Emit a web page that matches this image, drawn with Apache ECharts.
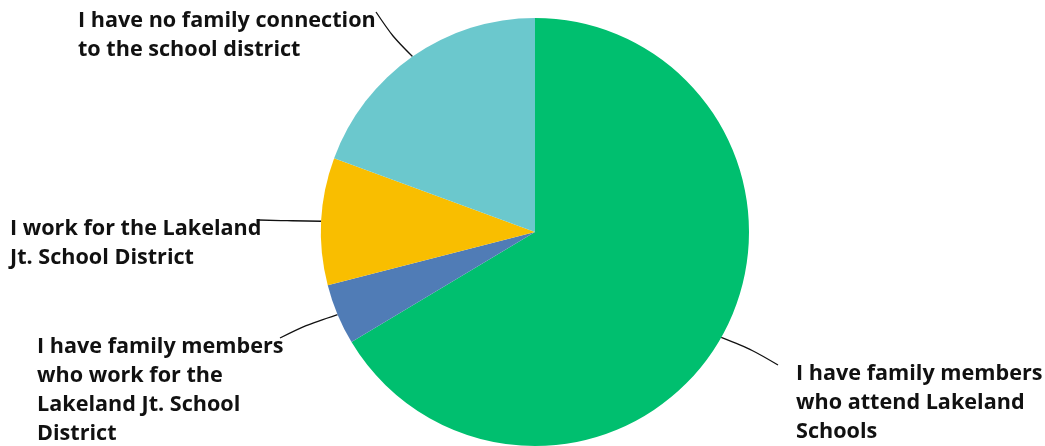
<!DOCTYPE html>
<html><head><meta charset="utf-8">
<script src="https://cdn.jsdelivr.net/npm/echarts@6/dist/echarts.min.js"></script>
<style>html,body{margin:0;padding:0;background:#fff}#c{width:1045px;height:446px}</style>
</head><body><div id="c"></div>
<script>
const categories = [
  "I have family members\nwho attend Lakeland\nSchools",
  "I have family members\nwho work for the\nLakeland Jt. School\nDistrict",
  "I work for the Lakeland\nJt. School District",
  "I have no family connection\nto the school district"
];
const values = [66.4, 4.6, 9.6, 19.4];
const colors = ["#00BF6F", "#507CB6", "#F9BE00", "#6BC8CD"];

// label placement (style): top-left of text block and leader end point
const labelBoxes = [
  {x: 796, y: 359, ex: 778, ey: 365},
  {x: 37,  y: 332, ex: 280, ey: 338},
  {x: 10,  y: 214, ex: 259, ey: 220},
  {x: 78,  y: 6,   ex: 376, ey: 12}
];

const chart = echarts.init(document.getElementById('c'), null, {renderer: 'canvas'});
chart.setOption({
  animation: false,
  series: [{
    type: 'pie',
    center: [535, 232],
    radius: 214,
    startAngle: 90,
    clockwise: true,
    data: categories.map((n, i) => ({name: n, value: values[i], itemStyle: {color: colors[i]}})),
    label: {
      show: true,
      formatter: '{b}',
      color: '#111',
      fontFamily: 'Open Sans',
      fontWeight: 'bold',
      fontSize: 21.6,
      lineHeight: 29
    },
    labelLine: {show: true, smooth: 0.3, lineStyle: {color: '#111', width: 1.3}},
    labelLayout: function (p) {
      const b = labelBoxes[p.dataIndex];
      const s = p.labelLinePoints ? p.labelLinePoints[0] : [b.ex, b.ey];
      const m = [s[0] + (b.ex - s[0]) * 0.55, s[1] + (b.ey - s[1]) * 0.45];
      return {
        x: b.x, y: b.y, align: 'left', verticalAlign: 'top',
        labelLinePoints: [s, m, [b.ex, b.ey]]
      };
    }
  }]
});
</script></body></html>
